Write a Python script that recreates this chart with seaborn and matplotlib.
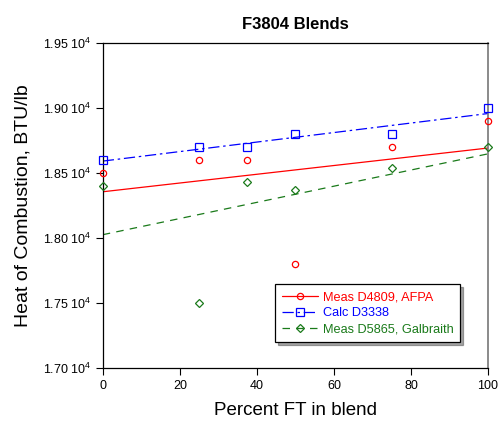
import numpy as np
import pandas as pd
import matplotlib
matplotlib.use("Agg")
import matplotlib.pyplot as plt
import seaborn as sns
from matplotlib.lines import Line2D

pct_ft = [0, 25, 37.5, 50, 75, 100]
meas_d4809 = [18500, 18600, 18600, 17800, 18700, 18900]
calc_d3338 = [18600, 18700, 18700, 18800, 18800, 19000]
meas_d5865 = [18400, 17500, 18430, 18370, 18540, 18700]
series_names = ["Meas D4809, AFPA", "Calc D3338", "Meas D5865, Galbraith"]
y_ticks = [17000, 17500, 18000, 18500, 19000, 19500]
y_tick_labels = [r"1.70 10$^{\mathregular{4}}$", r"1.75 10$^{\mathregular{4}}$",
                 r"1.80 10$^{\mathregular{4}}$", r"1.85 10$^{\mathregular{4}}$",
                 r"1.90 10$^{\mathregular{4}}$", r"1.95 10$^{\mathregular{4}}$"]
x_ticks = [0, 20, 40, 60, 80, 100]

sns.set_theme(style="ticks")
plt.rcParams['font.family'] = ['Liberation Sans', 'DejaVu Sans']
plt.rcParams['mathtext.fontset'] = 'custom'
plt.rcParams['mathtext.rm'] = 'Liberation Sans'
for k in ["text.color", "axes.labelcolor", "xtick.color", "ytick.color"]:
    plt.rcParams[k] = "black"

fig = plt.figure(figsize=(4.99, 4.25), dpi=100)
ax = fig.add_axes([0.206, 0.134, 0.772, 0.765])

colors = ["#ff0000", "#0000ff", "#1a7a1a"]
markers = ["o", "s", "D"]
msizes = [4.5, 5.5, 3.6]
styles = ["-", (0, (9, 3, 2, 3)), (0, (6, 5))]
data = [meas_d4809, calc_d3338, meas_d5865]

handles = []
for name, ys, c, m, ms, ls in zip(series_names, data, colors, markers, msizes, styles):
    df = pd.DataFrame({"x": pct_ft, "y": ys})
    sns.regplot(data=df, x="x", y="y", ax=ax, ci=None, scatter=False,
                line_kws=dict(color=c, lw=0.9, linestyle=ls))
    ax.plot(df["x"], df["y"], linestyle="none", marker=m, ms=ms,
            mfc="none", mec=c, mew=0.9, clip_on=False, zorder=5)
    handles.append(Line2D([], [], color=c, lw=0.9, linestyle=ls, marker=m,
                          ms=ms, mfc="none", mec=c, mew=0.9))

ax.set_xlim(0, 100)
ax.set_ylim(17000, 19500)
ax.set_xticks(x_ticks)
ax.set_yticks(y_ticks)
ax.set_yticklabels(y_tick_labels)
ax.tick_params(axis="both", direction="out", length=5, width=0.8, labelsize=9, colors="black")
for s in ["left", "bottom", "top"]:
    ax.spines[s].set_color("black")
    ax.spines[s].set_linewidth(0.9)
ax.spines["right"].set_color("#777777")
ax.spines["right"].set_linewidth(1.2)

ax.set_xlabel("Percent FT in blend", fontsize=13.5, labelpad=7)
ax.set_ylabel("Heat of Combustion, BTU/lb", fontsize=14, labelpad=8)
ax.set_title("F3804 Blends", fontsize=12, fontweight="bold", pad=10)

leg = ax.legend(handles, series_names, loc="lower right",
                bbox_to_anchor=(0.945, 0.06), fontsize=9.2, frameon=True,
                fancybox=False, shadow=True, handlelength=2.8,
                borderpad=0.55, labelspacing=0.3, handletextpad=0.4)
leg.get_frame().set_edgecolor("black")
leg.get_frame().set_linewidth(0.9)
for t, c in zip(leg.get_texts(), colors):
    t.set_color(c)

fig.savefig("out.png", dpi=100)
